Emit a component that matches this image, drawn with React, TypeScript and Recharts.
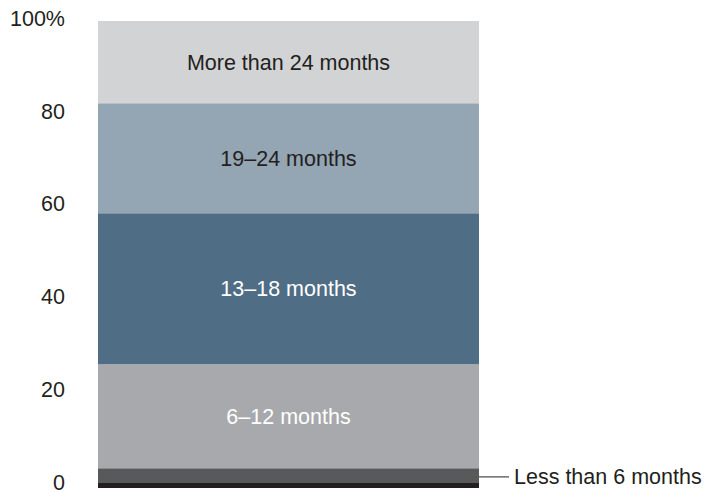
import { Bar, BarChart, LabelList, ReferenceLine, XAxis, YAxis } from "recharts";

const SEGMENTS = ["less6", "m6to12", "m13to18", "m19to24", "more24"];
const SEGMENT_NAMES = ["Less than 6 months", "6–12 months", "13–18 months", "19–24 months", "More than 24 months"];
const SEGMENT_VALUES = [3.7, 22.4, 32.5, 23.7, 17.7];
const SEGMENT_COLORS = ["#58595b", "#a7a9ac", "#4f6d85", "#94a5b4", "#d1d3d4"];
const LABEL_COLORS = ["#231f20", "#ffffff", "#ffffff", "#231f20", "#231f20"];
const Y_TICKS = [0, 20, 40, 60, 80, 100];

const FONT = "'Liberation Sans', Arial, sans-serif";
const FS = 21.5;

const row: Record<string, number | string> = { name: "all" };
SEGMENTS.forEach((k, i) => {
  row[k] = SEGMENT_VALUES[i];
});
const data = [row];

function LeaderLabel(props: any) {
  const { x, y, width, height } = props;
  const cy = Number(y) + Number(height) / 2;
  const x0 = Number(x) + Number(width);
  return (
    <g>
      <line x1={x0} y1={cy} x2={x0 + 30} y2={cy} stroke="#231f20" strokeWidth={1} />
      <text x={x0 + 35} y={cy} dy="0.35em" fontSize={FS} fontFamily={FONT} fill="#231f20">
        {SEGMENT_NAMES[0]}
      </text>
    </g>
  );
}

export default function App() {
  return (
    <div style={{ position: "absolute", left: 0, top: 0, background: "#fff" }}>
      <BarChart
        width={705}
        height={492}
        data={data}
        margin={{ top: 21, right: 226, bottom: 6.5, left: 0 }}
        barCategoryGap={0}
      >
        <XAxis dataKey="name" hide />
        <YAxis
          width={98}
          domain={[0, 100]}
          ticks={Y_TICKS}
          interval={0}
          axisLine={false}
          tickLine={false}
          tickSize={0}
          tickMargin={33}
          tickFormatter={(v) => (v === 100 ? "100%" : String(v))}
          tick={{ fontSize: FS, fill: "#231f20", fontFamily: FONT, dy: -3 }}
        />
        {SEGMENTS.map((k, i) => (
          <Bar key={k} dataKey={k} stackId="a" fill={SEGMENT_COLORS[i]} isAnimationActive={false}>
            {i === 0 ? (
              <LabelList dataKey={k} content={LeaderLabel} />
            ) : (
              <LabelList
                dataKey={k}
                position="center"
                formatter={() => SEGMENT_NAMES[i]}
                style={{ fontSize: FS, fontFamily: FONT, fill: LABEL_COLORS[i] }}
              />
            )}
          </Bar>
        ))}
        <ReferenceLine y={0} stroke="#231f20" strokeWidth={5} />
      </BarChart>
    </div>
  );
}
